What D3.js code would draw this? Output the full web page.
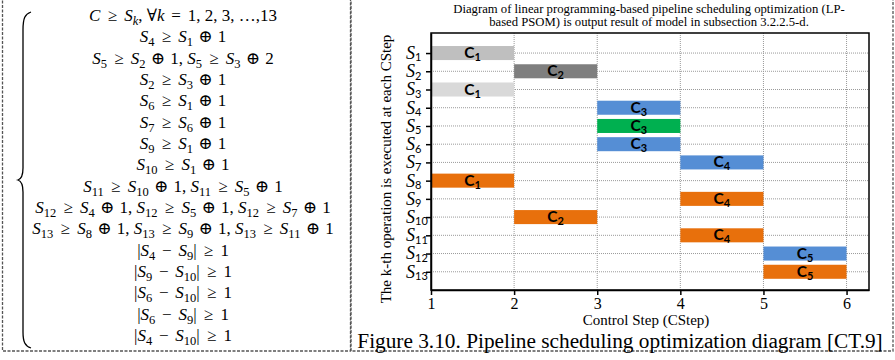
<!DOCTYPE html>
<html>
<head>
<meta charset="utf-8">
<script src="https://cdn.jsdelivr.net/npm/d3@7"></script>
<style>
  body { margin: 0; background: #fff; }
  svg { display: block; }
</style>
</head>
<body>
<svg id="fig" width="895" height="360"></svg>
<script>
// constraint system shown on the left (S_{..} = subscript)
var equations = [
  "C ≥ S_{k}, ∀k = 1, 2, 3, …,13",
  "S_{4} ≥ S_{1} ⊕ 1",
  "S_{5} ≥ S_{2} ⊕ 1, S_{5} ≥ S_{3} ⊕ 2",
  "S_{2} ≥ S_{3} ⊕ 1",
  "S_{6} ≥ S_{1} ⊕ 1",
  "S_{7} ≥ S_{6} ⊕ 1",
  "S_{9} ≥ S_{1} ⊕ 1",
  "S_{10} ≥ S_{1} ⊕ 1",
  "S_{11} ≥ S_{10} ⊕ 1, S_{11} ≥ S_{5} ⊕ 1",
  "S_{12} ≥ S_{4} ⊕ 1, S_{12} ≥ S_{5} ⊕ 1, S_{12} ≥ S_{7} ⊕ 1",
  "S_{13} ≥ S_{8} ⊕ 1, S_{13} ≥ S_{9} ⊕ 1, S_{13} ≥ S_{11} ⊕ 1",
  "|S_{4} − S_{9}| ≥ 1",
  "|S_{9} − S_{10}| ≥ 1",
  "|S_{6} − S_{10}| ≥ 1",
  "|S_{6} − S_{9}| ≥ 1",
  "|S_{4} − S_{10}| ≥ 1"
];

// gantt data: operation k, start control step, unit label, colour group
var ops    = [1, 2, 3, 4, 5, 6, 7, 8, 9, 10, 11, 12, 13];
var starts = [1, 2, 1, 3, 3, 3, 4, 1, 4, 2, 4, 5, 5];
var units  = [1, 2, 1, 3, 3, 3, 4, 1, 4, 2, 4, 5, 5];
var groups = ["gray1", "gray2", "gray3", "blue", "green", "blue", "blue",
              "orange", "orange", "orange", "orange", "blue", "orange"];
var xTicks = [1, 2, 3, 4, 5, 6];

var palette = {
  gray1: "#bfbfbf", gray2: "#7f7f7f", gray3: "#d9d9d9",
  blue: "#558ed5", green: "#00b050", orange: "#e8700c"
};

var svg = d3.select("#fig");

// writes "S_{12} ≥ ..." as tspans: letters italic, _{..} lowered,
// relation signs padded a little like math spacing
var opPads = { "≥": 3, "=": 2.5, "−": 2.5, "⊕": 1 };
function rich(sel, str, o) {
  var parts = str.match(/_\{[^}]*\}|[A-Za-z]|[≥⊕−=]|[^A-Za-z_≥⊕−=]+/g);
  var lowered = false, pad = 0;
  parts.forEach(function (p) {
    var t = sel.append("tspan");
    var dy = 0, dx = pad;
    pad = 0;
    if (p[0] === "_") {
      var sub = p.slice(2, -1);
      t.text(sub).attr("font-size", o.sub)
        .attr("font-family", o.subFamily || null)
        .attr("font-style", /[a-z]/.test(sub) && o.italic ? "italic" : "normal");
      dy = o.shift;
      lowered = true;
    } else {
      t.text(p).attr("font-style", /^[A-Za-z]$/.test(p) && o.italic ? "italic" : "normal");
      if (lowered) { dy = -o.shift; lowered = false; }
      if (opPads[p] && o.math) { dx += opPads[p]; pad = opPads[p]; }
    }
    if (dy) t.attr("dy", dy);
    if (dx) t.attr("dx", dx);
  });
}

// ---------- left panel: constraints ----------
svg.append("rect")
  .attr("x", 2.5).attr("y", -5).attr("width", 348).attr("height", 356)
  .attr("fill", "none").attr("stroke", "#555").attr("stroke-width", 1.3)
  .attr("stroke-dasharray", "3,1.5");

svg.append("path")
  .attr("d", "M31,12 C25,14 23,18 23,30 L23,168 C23,176 21,179 18,180 " +
             "C21,181 23,184 23,192 L23,332 C23,342 25,346 31,348")
  .attr("fill", "none").attr("stroke", "#000").attr("stroke-width", 1.3);

svg.append("g").selectAll("text")
  .data(equations).enter().append("text")
  .attr("x", 183)
  .attr("y", function (d, i) { return 21 + i * 21.33; })
  .attr("text-anchor", "middle")
  .attr("font-family", "'Liberation Serif', 'DejaVu Serif', serif")
  .attr("font-size", 17)
  .attr("fill", "#000")
  .each(function (d) { rich(d3.select(this), d, { sub: 12.5, shift: 4, italic: true, math: true }); });

// ---------- right panel: gantt ----------
svg.append("rect")
  .attr("x", 351).attr("y", -5).attr("width", 542).attr("height", 356)
  .attr("fill", "none").attr("stroke", "#555").attr("stroke-width", 1.3)
  .attr("stroke-dasharray", "3,1.5");

var x = d3.scaleLinear().domain([1, 6.27]).range([431, 869]);
var y = d3.scaleLinear().domain([-0.1, 14]).range([33, 290]);

// grid
var grid = svg.append("g").attr("stroke", "#9a9a9a").attr("stroke-width", 1)
  .attr("stroke-dasharray", "1,1");
grid.selectAll(".h").data(ops).enter().append("line")
  .attr("x1", x(1)).attr("x2", x.range()[1])
  .attr("y1", function (d) { return y(d); }).attr("y2", function (d) { return y(d); });
grid.selectAll(".v").data(xTicks.slice(1)).enter().append("line")
  .attr("y1", y.range()[0]).attr("y2", y.range()[1])
  .attr("x1", function (d) { return x(d); }).attr("x2", function (d) { return x(d); });

// bars
var half = 0.385;
var bars = svg.append("g").selectAll("g")
  .data(ops).enter().append("g");
bars.append("rect")
  .attr("x", function (d, i) { return x(starts[i]); })
  .attr("width", function (d, i) { return x(starts[i] + 1) - x(starts[i]); })
  .attr("y", function (d) { return y(d - half); })
  .attr("height", function (d) { return y(d + half) - y(d - half); })
  .attr("fill", function (d, i) { return palette[groups[i]]; });
bars.append("text")
  .attr("x", function (d, i) { return x(starts[i] + 0.5); })
  .attr("y", function (d) { return y(d) + 5; })
  .attr("text-anchor", "middle")
  .attr("font-family", "Lato, 'Open Sans', sans-serif")
  .attr("font-weight", "bold")
  .attr("font-size", 15.5)
  .attr("fill", "#000")
  .each(function (d, i) { rich(d3.select(this), "C_{" + units[i] + "}", { sub: 11, shift: 3 }); });

// frame
svg.append("rect")
  .attr("x", x.range()[0]).attr("y", y.range()[0])
  .attr("width", x.range()[1] - x.range()[0]).attr("height", y.range()[1] - y.range()[0])
  .attr("fill", "none").attr("stroke", "#000").attr("stroke-width", 1.5);

// axes
var xAxis = svg.append("g")
  .attr("transform", "translate(0," + y.range()[1] + ")")
  .call(d3.axisBottom(x).tickValues(xTicks).tickFormat(d3.format("d")).tickSize(5).tickSizeOuter(0));
xAxis.select(".domain").attr("stroke-width", 1.5);
xAxis.selectAll(".tick line").attr("stroke-width", 1.5);
xAxis.selectAll("text")
  .attr("font-family", "'Liberation Serif', serif").attr("font-size", 16).attr("fill", "#000");

var yAxis = svg.append("g")
  .attr("transform", "translate(" + x.range()[0] + ",0)")
  .call(d3.axisLeft(y).tickValues(ops).tickSize(5).tickSizeOuter(0));
yAxis.select(".domain").attr("stroke-width", 1.5);
yAxis.selectAll(".tick line").attr("stroke-width", 1.5);
yAxis.selectAll(".tick text").each(function (d) {
  var t = d3.select(this).text(null)
    .attr("x", -25).attr("dy", "0.3em").attr("text-anchor", "start")
    .attr("font-family", "'Liberation Serif', serif").attr("font-size", 18).attr("fill", "#000");
  rich(t, "S_{" + d + "}", { sub: 11, shift: 2.5, italic: true, subFamily: "Lato, sans-serif" });
});

// titles
var title = svg.append("text")
  .attr("text-anchor", "middle")
  .attr("font-family", "'Liberation Serif', serif").attr("font-size", 12.7).attr("fill", "#000");
title.append("tspan").attr("x", 649).attr("y", 13)
  .text("Diagram of linear programming-based pipeline scheduling optimization (LP-");
title.append("tspan").attr("x", 649).attr("y", 26)
  .text("based PSOM) is output result of model in subsection 3.2.2.5-d.");

svg.append("text")
  .attr("transform", "translate(391,169) rotate(-90)")
  .attr("text-anchor", "middle")
  .attr("font-family", "'Liberation Serif', serif").attr("font-size", 15).attr("fill", "#000")
  .text("The k-th operation is executed at each CStep");

svg.append("text")
  .attr("x", 646).attr("y", 325)
  .attr("text-anchor", "middle")
  .attr("font-family", "'Liberation Serif', serif").attr("font-size", 15).attr("fill", "#000")
  .text("Control Step (CStep)");

svg.append("text")
  .attr("x", 620).attr("y", 348)
  .attr("text-anchor", "middle")
  .attr("font-family", "'Liberation Serif', serif").attr("font-size", 21.3).attr("fill", "#000")
  .text("Figure 3.10. Pipeline scheduling optimization diagram [CT.9]");
</script>
</body>
</html>
